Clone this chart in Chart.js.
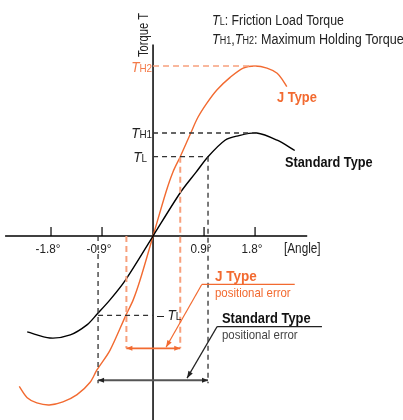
<!DOCTYPE html>
<html>
<head>
<meta charset="utf-8">
<script src="https://cdn.jsdelivr.net/npm/chart.js@4.4.1/dist/chart.umd.min.js"></script>
<style>
  html, body { margin: 0; padding: 0; background: #fff; }
  #wrap { width: 403px; height: 420px; }
</style>
</head>
<body>
<div id="wrap"><canvas id="chart"></canvas></div>
<script>
// Standard type curve (angle in degrees, torque relative to TH1)
const stdAngle  = [-2.22, -1.82, -1.46, -1.16, -0.99, -0.76, -0.49, 0, 0.48, 0.76, 0.97, 1.27, 1.48, 1.83, 2.19, 2.50];
const stdTorque = [-0.93, -0.99, -0.96, -0.86, -0.76, -0.62, -0.43, 0, 0.42, 0.62, 0.77, 0.93, 0.97, 1.00, 0.93, 0.83];

// J type curve
const jAngle  = [-2.36, -2.22, -2.05, -1.83, -1.59, -1.34, -1.11, -0.99, -0.76, -0.48, -0.35, -0.23, 0,
                 0.23, 0.35, 0.48, 0.65, 0.79, 0.95, 1.13, 1.36, 1.59, 1.80, 2.01, 2.19, 2.29, 2.36];
const jTorque = [-1.46, -1.57, -1.62, -1.64, -1.61, -1.54, -1.42, -1.30, -1.11, -0.77, -0.62, -0.43, 0,
                 0.43, 0.62, 0.77, 0.98, 1.15, 1.29, 1.42, 1.54, 1.63, 1.65, 1.63, 1.58, 1.51, 1.45];

// Torque levels
const TL = 0.77;
const TH1 = 1.0;
const TH2 = 1.65;
const peakAngle = 1.82;

// Angle ticks
const tickAngles = [-1.8, -0.9, 0.9, 1.8];
const tickLabels = ['-1.8°', '-0.9°', '0.9°', '1.8°'];

// Positional error ranges
const stdError = [-0.97, 0.97];
const jError = [-0.47, 0.48];
const stdErrorLevel = -1.40;
const jErrorLevel = -1.09;
const guideBottom = -1.43;

// Leader lines: [start, tip] and underline end
const jLeader = [[0.86, -0.47], [0.23, -1.08]];
const jUnderlineEnd = 2.50;
const stdLeader = [[1.13, -0.88], [0.60, -1.38]];
const stdUnderlineEnd = 2.98;

const ORANGE = '#f26a30';
const ORANGE_LIGHT = '#f7a07c';
const DASH_BLACK = '#333333';
const FONT = '"Liberation Sans", Arial, sans-serif';

function pts(xs, ys) {
    return xs.map((x, i) => ({ x: x, y: ys[i] }));
}

function guide(points, color, width, dash) {
    return {
        data: points.map(p => ({ x: p[0], y: p[1] })),
        borderColor: color,
        borderWidth: width,
        borderDash: dash,
        pointRadius: 0,
        showLine: true,
        tension: 0
    };
}

// Helpers for drawing
function line(ctx, x1, y1, x2, y2, color, width, dash) {
    ctx.save();
    ctx.strokeStyle = color;
    ctx.lineWidth = width;
    ctx.setLineDash(dash || []);
    ctx.beginPath();
    ctx.moveTo(x1, y1);
    ctx.lineTo(x2, y2);
    ctx.stroke();
    ctx.restore();
}

function arrowHead(ctx, x, y, angle, color, len, half) {
    ctx.save();
    ctx.translate(x, y);
    ctx.rotate(angle);
    ctx.fillStyle = color;
    ctx.beginPath();
    ctx.moveTo(0, 0);
    ctx.lineTo(-len, -half);
    ctx.lineTo(-len, half);
    ctx.closePath();
    ctx.fill();
    ctx.restore();
}

// parts: [text, font, scaleX]
function richText(ctx, parts, x, y, align, color) {
    ctx.save();
    ctx.fillStyle = color;
    ctx.textBaseline = 'alphabetic';
    ctx.textAlign = 'left';
    let total = 0;
    const widths = parts.map(p => {
        ctx.font = p[1];
        const w = ctx.measureText(p[0]).width * (p[2] || 1);
        total += w;
        return w;
    });
    let cx = x;
    if (align === 'right') cx = x - total;
    if (align === 'center') cx = x - total / 2;
    parts.forEach((p, i) => {
        ctx.font = p[1];
        ctx.save();
        ctx.translate(cx, y);
        ctx.scale(p[2] || 1, 1);
        ctx.fillText(p[0], 0, 0);
        ctx.restore();
        cx += widths[i];
    });
    ctx.restore();
}

function tLabel(sub, size) {
    return [['T', 'italic ' + size + 'px ' + FONT, 0.9], [sub, Math.round(size * 0.7) + 'px ' + FONT, 0.9]];
}

const diagramPlugin = {
    id: 'diagram',
    beforeDatasetsDraw(chart) {
        const ctx = chart.ctx;
        const xs = chart.scales.x;
        const ys = chart.scales.y;
        const ox = xs.getPixelForValue(0);
        const oy = ys.getPixelForValue(0);

        // Axes
        line(ctx, xs.getPixelForValue(-2.61), oy, xs.getPixelForValue(2.72), oy, '#000', 1.5);
        line(ctx, ox, ys.getPixelForValue(1.86), ox, chart.chartArea.bottom, '#000', 1.5);

        // Ticks and labels
        tickAngles.forEach((a, i) => {
            const px = xs.getPixelForValue(a);
            line(ctx, px, oy - 9, px, oy, '#000', 1.2);
            richText(ctx, [[tickLabels[i], '13px ' + FONT, 0.9]], px - 3, oy + 17, 'center', '#222');
        });
        richText(ctx, [['[Angle]', '14px ' + FONT, 0.84]], 284, oy + 17, 'left', '#222');

        // Torque axis title
        ctx.save();
        ctx.translate(148, 57);
        ctx.rotate(-Math.PI / 2);
        richText(ctx, [['Torque T', '14px ' + FONT, 0.8]], 0, 0, 'left', '#222');
        ctx.restore();
    },
    afterDatasetsDraw(chart) {
        const ctx = chart.ctx;
        const xs = chart.scales.x;
        const ys = chart.scales.y;
        const X = v => xs.getPixelForValue(v);
        const Y = v => ys.getPixelForValue(v);

        // Error bars
        const jy = Y(jErrorLevel);
        line(ctx, X(jError[0]), jy, X(jError[1]), jy, ORANGE, 1.8);
        arrowHead(ctx, X(jError[0]), jy, Math.PI, ORANGE, 6, 2.5);
        arrowHead(ctx, X(jError[1]), jy, 0, ORANGE, 6, 2.5);
        const sy = Y(stdErrorLevel);
        line(ctx, X(stdError[0]), sy, X(stdError[1]), sy, '#555', 2);
        arrowHead(ctx, X(stdError[0]), sy, Math.PI, '#222', 6, 2.5);
        arrowHead(ctx, X(stdError[1]), sy, 0, '#222', 6, 2.5);

        // Leader lines
        const jx1 = X(jLeader[0][0]), jy1 = Y(jLeader[0][1]);
        const jx2 = X(jLeader[1][0]), jy2 = Y(jLeader[1][1]);
        line(ctx, X(jUnderlineEnd), jy1, jx1, jy1, ORANGE, 1.2);
        line(ctx, jx1, jy1, jx2, jy2, ORANGE, 1.2);
        arrowHead(ctx, jx2, jy2, Math.atan2(jy2 - jy1, jx2 - jx1), ORANGE, 7, 2.5);

        const sx1 = X(stdLeader[0][0]), sy1 = Y(stdLeader[0][1]);
        const sx2 = X(stdLeader[1][0]), sy2 = Y(stdLeader[1][1]);
        line(ctx, X(stdUnderlineEnd), sy1, sx1, sy1, '#222', 1.2);
        line(ctx, sx1, sy1, sx2, sy2, '#222', 1.2);
        arrowHead(ctx, sx2, sy2, Math.atan2(sy2 - sy1, sx2 - sx1), '#222', 7, 2.5);

        // Level labels
        const ox = X(0);
        richText(ctx, tLabel('H2', 15), ox - 1, Y(TH2) + 6, 'right', '#f47a48');
        richText(ctx, tLabel('H1', 15), ox - 1, Y(TH1) + 5, 'right', '#222');
        richText(ctx, tLabel('L', 15), ox - 6, Y(TL) + 5, 'right', '#222');
        richText(ctx, [['– ', '14px ' + FONT, 0.9]].concat(tLabel('L', 15)), ox + 4, Y(-TL) + 5, 'left', '#222');

        // Legend texts
        richText(ctx, tLabel('L', 14).concat([[': Friction Load Torque', '14px ' + FONT, 0.88]]), 212, 25, 'left', '#222');
        richText(ctx, tLabel('H1', 14).concat([[',', '14px ' + FONT, 0.9]], tLabel('H2', 14),
            [[': Maximum Holding Torque', '14px ' + FONT, 0.9]]), 212, 44, 'left', '#222');

        // Curve names
        richText(ctx, [['J Type', 'bold 14px ' + FONT, 0.92]], 277, 102, 'left', ORANGE);
        richText(ctx, [['Standard Type', 'bold 15px ' + FONT, 0.85]], 285, 167, 'left', '#111');
        richText(ctx, [['J Type', 'bold 15px ' + FONT, 0.9]], 215, 281, 'left', ORANGE);
        richText(ctx, [['positional error', '13px ' + FONT, 0.88]], 215, 297, 'left', ORANGE);
        richText(ctx, [['Standard Type', 'bold 15px ' + FONT, 0.86]], 222, 323, 'left', '#111');
        richText(ctx, [['positional error', '13px ' + FONT, 0.88]], 222, 339, 'left', '#444');
    }
};

function initChart() {
    const ctx = document.getElementById('chart').getContext('2d');
    new Chart(ctx, {
        type: 'scatter',
        data: {
            datasets: [
                guide([[0, TH2], [peakAngle, TH2]], ORANGE_LIGHT, 1.5, [6, 4]),
                guide([[0, TH1], [peakAngle, TH1]], DASH_BLACK, 1.3, [5, 4]),
                guide([[0, TL], [stdError[1], TL]], DASH_BLACK, 1.3, [5, 4]),
                guide([[stdError[0], -TL], [0, -TL]], DASH_BLACK, 1.3, [5, 4]),
                guide([[stdError[1], TL], [stdError[1], guideBottom]], DASH_BLACK, 1.3, [5, 4]),
                guide([[stdError[0], 0], [stdError[0], guideBottom]], DASH_BLACK, 1.3, [5, 4]),
                guide([[jError[1], TL], [jError[1], jErrorLevel]], ORANGE_LIGHT, 2, [6, 4]),
                guide([[jError[0], 0], [jError[0], jErrorLevel]], ORANGE_LIGHT, 2, [6, 4]),
                {
                    label: 'Standard Type',
                    data: pts(stdAngle, stdTorque),
                    borderColor: '#000',
                    borderWidth: 1.4,
                    pointRadius: 0,
                    showLine: true,
                    tension: 0.3
                },
                {
                    label: 'J Type',
                    data: pts(jAngle, jTorque),
                    borderColor: ORANGE,
                    borderWidth: 1.4,
                    pointRadius: 0,
                    showLine: true,
                    tension: 0.3
                }
            ]
        },
        options: {
            responsive: true,
            maintainAspectRatio: false,
            animation: false,
            layout: { padding: 0 },
            scales: {
                x: { type: 'linear', min: -2.70, max: 4.41, display: false },
                y: { type: 'linear', min: -1.786, max: 2.291, display: false }
            },
            plugins: {
                legend: { display: false },
                tooltip: { enabled: false }
            }
        },
        plugins: [diagramPlugin]
    });
}

initChart();
</script>
</body>
</html>
